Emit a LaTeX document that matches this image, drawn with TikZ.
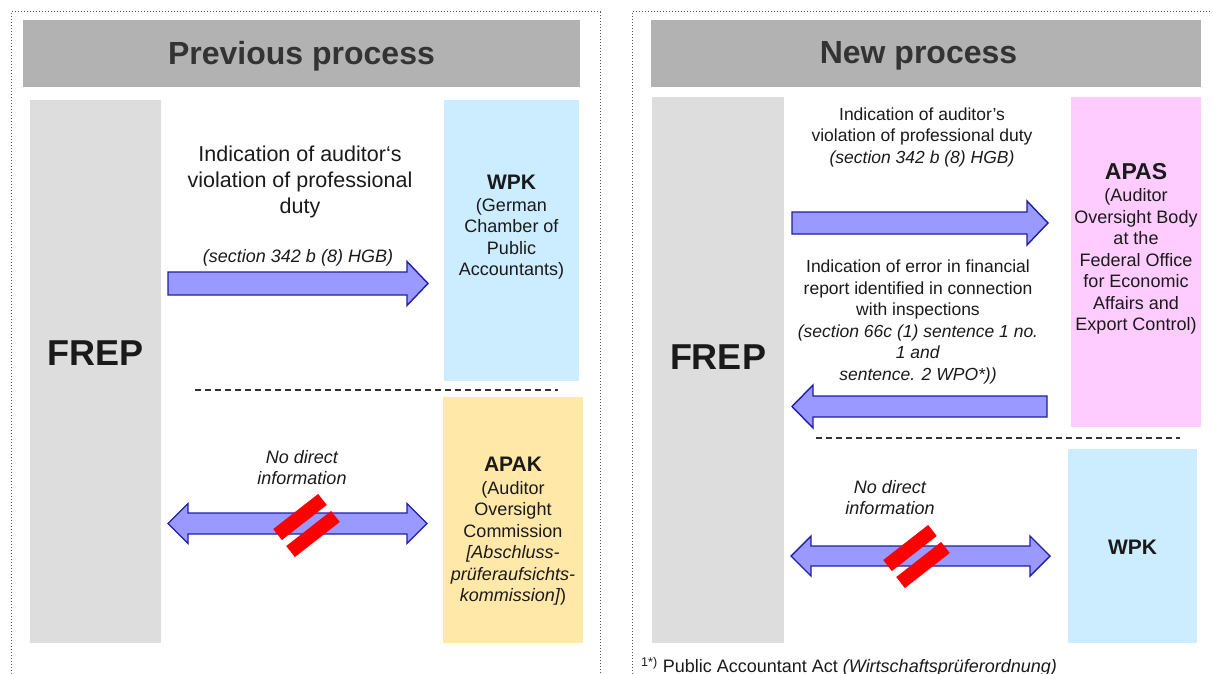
\documentclass[tikz,border=0pt]{standalone}
\usepackage{fontspec}
\setmainfont{Liberation Sans}

\definecolor{hdrgray}{HTML}{B2B2B2}
\definecolor{frepgray}{HTML}{DDDDDD}
\definecolor{wpkblue}{HTML}{CCECFF}
\definecolor{apakgold}{HTML}{FFE8A8}
\definecolor{apaspink}{HTML}{FFCCFF}
\definecolor{arrowfill}{HTML}{9999FF}
\definecolor{arrowline}{HTML}{1F1FA6}
\definecolor{inkblack}{HTML}{1A1A1A}

\tikzset{
  frame/.style={black!65,line width=1pt,dotted},
  hdrtext/.style={text=black!80,font=\fontsize{32}{38}\selectfont\bfseries},
  freptext/.style={text=inkblack,font=\fontsize{36}{42}\selectfont\bfseries},
  boxtitle/.style={text=inkblack,inner sep=0pt,font=\fontsize{21}{25}\selectfont\bfseries},
  boxbody/.style={text=inkblack,inner sep=0pt,align=center,font=\fontsize{18}{21.5}\selectfont},
  bodytext/.style={text=inkblack,inner sep=0pt,align=center,font=\fontsize{17.5}{21.5}\selectfont},
  bigtext/.style={text=inkblack,inner sep=0pt,align=center,font=\fontsize{21.5}{26}\selectfont},
  blockarrow/.style={fill=arrowfill,draw=arrowline,line width=1.4pt,line join=miter},
  strikebar/.style={fill=red,inner sep=0pt,minimum width=57pt,minimum height=14pt,rotate=38},
  divider/.style={black!80,line width=1.3pt,dash pattern=on 6pt off 4pt}
}

\begin{document}
\begin{tikzpicture}[x=1pt,y=-1pt]
\useasboundingbox (0,0) rectangle (1213,674);
% frames
\draw[frame] (11,674) -- (11,12) -- (600,12) -- (600,674);
\draw[frame] (632,674) -- (632,12) -- (1211,12);

% previous process
\fill[hdrgray] (23,20) rectangle (580,87);
\node[hdrtext] (prevtitle) at (301.5,56) {Previous process};
\fill[frepgray] (30,100) rectangle (161,643);
\node[freptext] (frepl) at (95.5,353) {FREP};
\fill[wpkblue] (444,100) rectangle (579,381);
\node[boxtitle] (wpkl) at (511.5,182) {WPK};
\node[boxbody] (wpklbody) at (511.5,239) {(German\\Chamber of\\Public\\Accountants)};
\fill[apakgold] (443,397) rectangle (583,643);
\node[boxtitle] (apak) at (513,464) {APAK};
\node[boxbody] (apakbody) at (513,543.5) {(Auditor\\Oversight\\Commission\\\textit{[Abschluss-}\\\textit{prüferaufsichts-}\\\textit{kommission]})};

\node[bigtext] (violl) at (300,182) {Indication of auditor‘s\\violation of professional\\duty};
\node[bodytext,font=\fontsize{18}{21.5}\selectfont\itshape] (hgbl) at (298,258) {(section 342 b (8) HGB)};
\draw[blockarrow] (168,272) -- (407,272) -- (407,261.5) -- (428,283.5) -- (407,305.5) -- (407,295) -- (168,295) -- cycle;

\draw[divider] (195,390) -- (558,390);

\node[boxbody,font=\fontsize{18}{21.5}\selectfont\itshape] (nodirl) at (302,467.5) {No direct\\information};
\draw[blockarrow] (168,523.5) -- (188,503.5) -- (188,513) -- (407,513) -- (407,503.5) -- (427,523.5) -- (407,543.5) -- (407,534) -- (188,534) -- (188,543.5) -- cycle;
\node[strikebar] (strikel1) at (300,517) {};
\node[strikebar] (strikel2) at (313,534) {};

% new process
\fill[hdrgray] (651,20) rectangle (1201,87);
\node[hdrtext] (newtitle) at (918.5,56) {New process};
\fill[frepgray] (652,97) rectangle (784,643);
\node[freptext] (frepr) at (718,357) {FREP};
\fill[apaspink] (1071,97) rectangle (1201,427);
\node[boxtitle,font=\fontsize{23}{27}\selectfont\bfseries] (apas) at (1136,172) {APAS};
\node[boxbody] (apasbody) at (1136,261.5) {(Auditor\\Oversight Body\\at the\\Federal Office\\for Economic\\Affairs and\\Export Control)};
\fill[wpkblue] (1068,449) rectangle (1197,643);
\node[boxtitle] (wpkr) at (1132.5,547) {WPK};

\node[bodytext] (violr) at (922,137) {Indication of auditor's\\violation of professional duty\\\textit{(section 342 b (8) HGB)}};
\draw[blockarrow] (792,212) -- (1027,212) -- (1027,201) -- (1048,223) -- (1027,245) -- (1027,234) -- (792,234) -- cycle;

\node[bodytext] (errorr) at (918,322) {Indication of error in financial\\report identified in connection\\with inspections\\\textit{(section 66c (1) sentence 1 no.}\\\textit{1 and}\\\textit{sentence. 2 WPO*))}};
\draw[blockarrow] (1047,396) -- (813,396) -- (813,385) -- (792,406.5) -- (813,428) -- (813,417) -- (1047,417) -- cycle;

\draw[divider] (816,438) -- (1180,438);

\node[boxbody,font=\fontsize{18}{21.5}\selectfont\itshape] (nodirr) at (890,497.5) {No direct\\information};
\draw[blockarrow] (791,556) -- (811,536) -- (811,546) -- (1030,546) -- (1030,536) -- (1050,556) -- (1030,576) -- (1030,566) -- (811,566) -- (811,576) -- cycle;
\node[strikebar] (striker1) at (910,548) {};
\node[strikebar] (striker2) at (923,565) {};

\node[bodytext,font=\fontsize{18}{21.5}\selectfont,anchor=base west] (footnote) at (641,672.5) {\textsuperscript{1*)} Public Accountant Act \textit{(Wirtschaftsprüferordnung)}};
\end{tikzpicture}
\end{document}
